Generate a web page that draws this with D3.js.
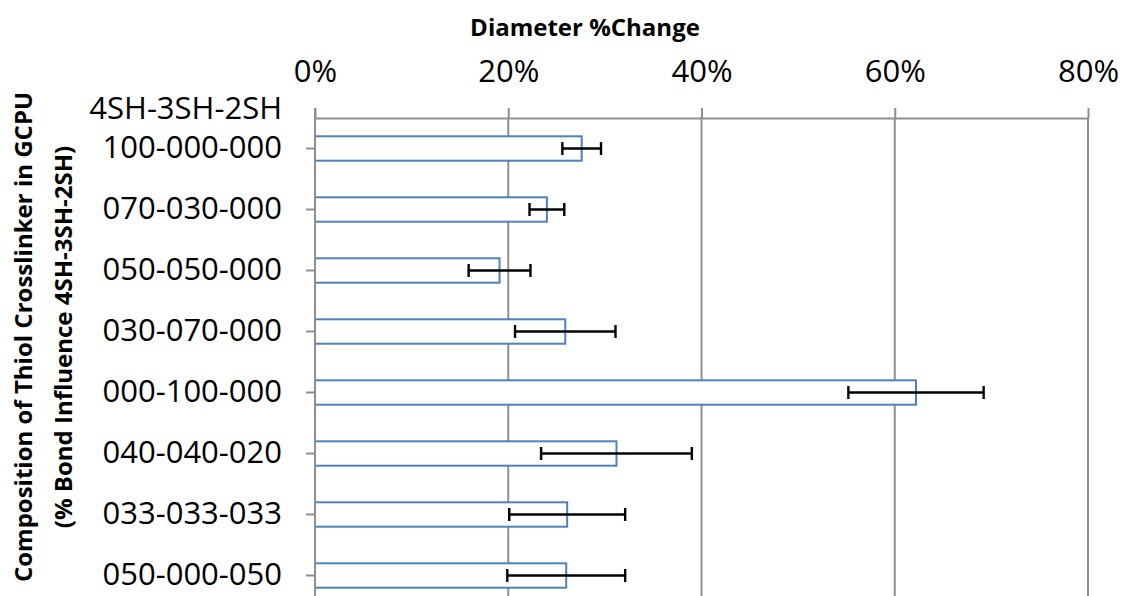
<!DOCTYPE html>
<html>
<head>
<meta charset="utf-8">
<script src="https://cdn.jsdelivr.net/npm/d3@7"></script>
<style>
  body { margin: 0; background: #fff; }
  svg { display: block; font-family: "Open Sans", sans-serif; }
</style>
</head>
<body>
<div id="chart"></div>
<script>
const width = 1123;
const height = 596;

// composition labels (4SH-3SH-2SH), top to bottom
const categories = [
    "100-000-000", "070-030-000", "050-050-000", "030-070-000",
    "000-100-000", "040-040-020", "033-033-033", "050-000-050"
];
// diameter % change
const values = [27.6, 24.0, 19.1, 25.9, 62.2, 31.2, 26.1, 26.0];
// +/- error
const errors = [2.0, 1.8, 3.2, 5.2, 7.0, 7.8, 6.0, 6.1];
const xTicks = [0, 20, 40, 60, 80];

const margin = { top: 118, left: 315 };
const plotRight = 1088;
const step = 61;

const svg = d3.select("#chart")
    .append("svg")
    .attr("width", width)
    .attr("height", height);

const x = d3.scaleLinear()
    .domain([0, 80])
    .range([margin.left, plotRight]);

const y = d3.scaleBand()
    .domain(categories)
    .range([margin.top, margin.top + categories.length * step])
    .paddingInner(0.6)
    .paddingOuter(0.3);

const gridColor = "#8f8f8f";

// vertical gridlines
svg.append("g")
    .selectAll("line")
    .data(xTicks.slice(1))
    .join("line")
    .attr("x1", d => x(d))
    .attr("x2", d => x(d))
    .attr("y1", margin.top)
    .attr("y2", height)
    .attr("stroke", gridColor)
    .attr("stroke-width", 2);

// top axis
const xAxis = svg.append("g")
    .attr("transform", `translate(0,${margin.top})`)
    .call(d3.axisTop(x).tickValues(xTicks).tickFormat(d => d + "%").tickSize(10).tickSizeOuter(0).tickPadding(26));
xAxis.select(".domain").attr("stroke", gridColor).attr("stroke-width", 2);
xAxis.selectAll(".tick line").attr("stroke", gridColor).attr("stroke-width", 2);
xAxis.selectAll(".tick text")
    .attr("font-size", 31)
    .attr("font-family", "Open Sans, sans-serif")
    .attr("fill", "#000");

// bars
svg.append("g")
    .selectAll("rect")
    .data(values)
    .join("rect")
    .attr("x", x(0))
    .attr("y", (d, i) => y(categories[i]))
    .attr("width", d => x(d) - x(0))
    .attr("height", y.bandwidth())
    .attr("fill", "#fff")
    .attr("stroke", "#4f81bd")
    .attr("stroke-width", 2);

// error bars
const err = svg.append("g")
    .attr("stroke", "#000")
    .attr("stroke-width", 2.4);
values.forEach((v, i) => {
    const cy = y(categories[i]) + y.bandwidth() / 2;
    const lo = x(v - errors[i]);
    const hi = x(v + errors[i]);
    err.append("line").attr("x1", lo).attr("x2", hi).attr("y1", cy).attr("y2", cy);
    err.append("line").attr("x1", lo).attr("x2", lo).attr("y1", cy - 6.5).attr("y2", cy + 6.5);
    err.append("line").attr("x1", hi).attr("x2", hi).attr("y1", cy - 6.5).attr("y2", cy + 6.5);
});

// left axis
const yAxis = svg.append("g")
    .attr("transform", `translate(${margin.left},0)`)
    .call(d3.axisLeft(y).tickSize(9).tickSizeOuter(0).tickPadding(24));
yAxis.select(".domain").remove();
yAxis.selectAll(".tick line").attr("stroke", gridColor).attr("stroke-width", 2);
yAxis.selectAll(".tick text")
    .attr("font-size", 31)
    .attr("font-family", "Open Sans, sans-serif")
    .attr("fill", "#000");
svg.append("line")
    .attr("x1", margin.left).attr("x2", margin.left)
    .attr("y1", margin.top - 10).attr("y2", height)
    .attr("stroke", gridColor)
    .attr("stroke-width", 2);

// header above the first category
svg.append("text")
    .attr("x", margin.left - 33)
    .attr("y", y(categories[0]) + y.bandwidth() / 2 - 39)
    .attr("dy", "0.32em")
    .attr("text-anchor", "end")
    .attr("font-size", 31)
    .text("4SH-3SH-2SH");

// titles
svg.append("text")
    .attr("x", 585)
    .attr("y", 36)
    .attr("text-anchor", "middle")
    .attr("font-size", 24)
    .attr("font-weight", "bold")
    .text("Diameter %Change");

const yTitle = svg.append("text")
    .attr("transform", "translate(0,337) rotate(-90)")
    .attr("text-anchor", "middle")
    .attr("font-size", 24)
    .attr("font-weight", "bold");
yTitle.append("tspan").attr("x", 0).attr("y", 32).text("Composition of Thiol Crosslinker in GCPU");
yTitle.append("tspan").attr("x", 0).attr("y", 72).text("(% Bond Influence 4SH-3SH-2SH)");
</script>
</body>
</html>
